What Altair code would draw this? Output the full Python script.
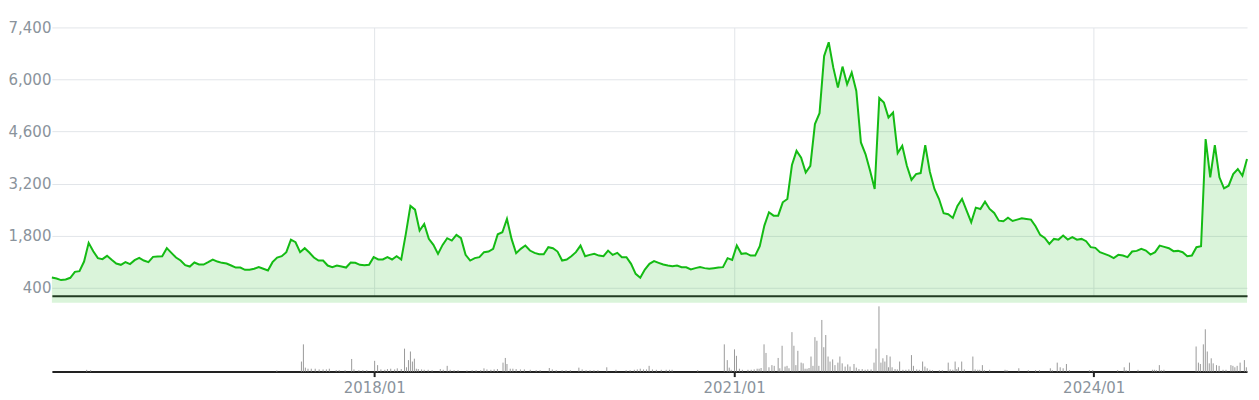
import altair as alt
import pandas as pd

# ---- price series (biweekly closes) ----
price_start = "2015-04-25"
price = [
    676, 650, 607, 623, 668, 829, 847, 1105, 1607, 1384,
    1197, 1170, 1258, 1151, 1052, 1017, 1089, 1036, 1143, 1205,
    1133, 1089, 1231, 1240, 1249, 1465, 1339, 1213, 1133, 1009,
    971, 1079, 1025, 1025, 1089, 1160, 1105, 1070, 1052, 998,
    944, 944, 883, 883, 910, 955, 910, 864, 1089, 1213,
    1249, 1357, 1695, 1625, 1357, 1465, 1347, 1213, 1133, 1133,
    998, 955, 998, 971, 944, 1079, 1070, 1017, 1009, 1017,
    1223, 1160, 1160, 1223, 1160, 1249, 1160, 1848, 2600, 2500,
    1937, 2116, 1714, 1553, 1312, 1553, 1733, 1669, 1821, 1733,
    1285, 1133, 1197, 1223, 1357, 1374, 1446, 1840, 1894, 2250,
    1714, 1330, 1446, 1535, 1401, 1339, 1304, 1300, 1492, 1465,
    1374, 1133, 1160, 1249, 1357, 1535, 1249, 1285, 1312, 1266,
    1249, 1400, 1285, 1339, 1223, 1223, 1044, 775, 668, 891,
    1044, 1116, 1070, 1025, 998, 982, 998, 955, 950, 891,
    928, 955, 928, 910, 928, 944, 955, 1197, 1151, 1535,
    1312, 1330, 1266, 1266, 1518, 2071, 2430, 2339, 2339, 2698,
    2787, 3700, 4082, 3900, 3500, 3680, 4800, 5094, 6630, 7000,
    6319, 5782, 6346, 5871, 6185, 5692, 4308, 3994, 3546, 3055,
    5500, 5380, 4978, 5112, 4021, 4216, 3680, 3300, 3457, 3484,
    4235, 3519, 3055, 2787, 2404, 2376, 2277, 2599, 2787, 2473,
    2162, 2554, 2519, 2714, 2519, 2411, 2205, 2189, 2285, 2197,
    2232, 2269, 2251, 2232, 2055, 1821, 1741, 1580, 1714, 1695,
    1803, 1695, 1760, 1695, 1714, 1652, 1492, 1473, 1357, 1312,
    1266, 1197, 1285, 1266, 1223, 1374, 1392, 1446, 1400, 1293,
    1357, 1535, 1500, 1465, 1384, 1392, 1357, 1249, 1266, 1492,
    1518, 4400, 3369, 4235, 3369, 3074, 3144, 3457, 3592, 3412,
    3860,
]

# ---- volume bars (date, relative volume) ----
vol_dates = [
    "2015-08-09", "2015-08-21", "2017-03-10", "2017-05-24", "2017-05-30",
    "2017-06-05", "2017-06-13", "2017-06-23", "2017-07-05", "2017-07-17",
    "2017-07-29", "2017-08-08", "2017-08-17", "2017-09-07", "2017-09-16",
    "2017-10-04", "2017-10-24", "2017-10-31", "2017-11-15", "2017-11-27",
    "2017-12-09", "2018-01-02", "2018-01-11", "2018-01-21", "2018-02-02",
    "2018-02-10", "2018-02-20", "2018-03-04", "2018-03-12", "2018-03-24",
    "2018-04-03", "2018-04-09", "2018-04-15", "2018-04-21", "2018-04-27",
    "2018-05-03", "2018-05-09", "2018-05-15", "2018-05-25", "2018-06-02",
    "2018-06-14", "2018-06-26", "2018-07-21", "2018-07-30", "2018-08-11",
    "2018-08-20", "2018-09-01", "2018-09-13", "2018-10-10", "2018-10-26",
    "2018-11-07", "2018-11-21", "2018-12-01", "2018-12-10", "2018-12-22",
    "2019-01-01", "2019-01-11", "2019-01-28", "2019-02-04", "2019-02-09",
    "2019-02-19", "2019-02-27", "2019-03-09", "2019-03-22", "2019-04-03",
    "2019-04-21", "2019-05-09", "2019-05-21", "2019-06-18", "2019-06-27",
    "2019-07-09", "2019-07-27", "2019-08-08", "2019-08-21", "2019-09-16",
    "2019-09-26", "2019-10-08", "2019-10-20", "2019-11-01", "2019-11-13",
    "2019-12-10", "2020-01-07", "2020-02-07", "2020-02-19", "2020-03-03",
    "2020-03-12", "2020-03-21", "2020-03-31", "2020-04-09", "2020-04-17",
    "2020-04-27", "2020-05-09", "2020-05-24", "2020-06-08", "2020-06-18",
    "2020-06-26", "2020-09-12", "2020-12-02", "2020-12-11", "2020-12-17",
    "2020-12-23", "2021-01-02", "2021-01-08", "2021-01-17", "2021-01-26",
    "2021-02-12", "2021-02-22", "2021-03-03", "2021-03-12", "2021-03-18",
    "2021-03-24", "2021-04-02", "2021-04-08", "2021-04-17", "2021-04-26",
    "2021-05-03", "2021-05-15", "2021-05-20", "2021-05-27", "2021-06-05",
    "2021-06-11", "2021-06-17", "2021-06-26", "2021-07-02", "2021-07-08",
    "2021-07-14", "2021-07-24", "2021-07-30", "2021-08-05", "2021-08-11",
    "2021-08-17", "2021-08-23", "2021-08-29", "2021-09-04", "2021-09-10",
    "2021-09-16", "2021-09-25", "2021-10-01", "2021-10-07", "2021-10-14",
    "2021-10-20", "2021-10-28", "2021-11-04", "2021-11-13", "2021-11-19",
    "2021-11-26", "2021-12-05", "2021-12-13", "2021-12-20", "2022-01-01",
    "2022-01-08", "2022-01-16", "2022-01-26", "2022-02-04", "2022-02-12",
    "2022-02-22", "2022-03-03", "2022-03-09", "2022-03-18", "2022-03-24",
    "2022-03-30", "2022-04-05", "2022-04-11", "2022-04-16", "2022-04-21",
    "2022-04-27", "2022-05-06", "2022-05-13", "2022-05-20", "2022-05-30",
    "2022-06-08", "2022-06-17", "2022-06-25", "2022-07-01", "2022-07-11",
    "2022-07-19", "2022-07-29", "2022-08-05", "2022-08-12", "2022-08-20",
    "2022-08-28", "2022-09-18", "2022-09-27", "2022-10-15", "2022-10-21",
    "2022-10-29", "2022-11-05", "2022-11-10", "2022-11-15", "2022-11-25",
    "2022-12-03", "2022-12-29", "2023-01-05", "2023-01-13", "2023-01-19",
    "2023-01-27", "2023-02-02", "2023-02-18", "2023-04-06", "2023-04-12",
    "2023-05-18", "2023-06-16", "2023-07-08", "2023-07-20", "2023-08-22",
    "2023-08-28", "2023-09-12", "2023-09-21", "2023-09-30", "2023-10-10",
    "2023-10-19", "2023-12-19", "2023-12-29", "2024-03-14", "2024-04-03",
    "2024-04-09", "2024-04-19", "2024-05-15", "2024-06-28", "2024-07-04",
    "2024-07-10", "2024-07-19", "2024-07-25", "2024-08-02", "2024-11-08",
    "2024-11-15", "2024-11-21", "2024-11-30", "2024-12-06", "2024-12-12",
    "2024-12-18", "2024-12-24", "2024-12-30", "2025-01-09", "2025-01-17",
    "2025-01-29", "2025-02-07", "2025-02-22", "2025-02-28", "2025-03-06",
    "2025-03-13", "2025-03-22", "2025-04-04", "2025-04-10",
]
vol_values = [
    2.4, 2, 1.5, 14, 38,
    5.5, 4, 4, 4, 3,
    3, 3, 4, 2, 2,
    2, 17.6, 3, 2, 2,
    2, 15, 9, 3, 2.5,
    3.5, 4, 3, 4.5, 3.5,
    32, 6, 16, 28, 14,
    18, 4, 3.5, 3, 2.5,
    2.5, 2, 3.5, 2.5, 8,
    2.5, 2, 2, 1.5, 2,
    2, 2, 4.5, 3, 2.5,
    3, 3.5, 12.5, 19, 10.6,
    4, 4, 3.5, 3, 3,
    2.5, 2, 2, 5, 3,
    2, 2, 2, 2, 5.5,
    3, 2, 2, 2, 2,
    6, 2.5, 2, 2, 2.5,
    3, 4, 3, 3, 8,
    3, 2.5, 2.5, 2.5, 2.5,
    2.5, 2, 38, 16, 5.5,
    2.5, 31, 22, 4, 2.5,
    2.5, 2.5, 3, 4, 4,
    5, 38, 26, 6, 9,
    8, 19, 4.6, 36, 7,
    8, 4.6, 55, 36, 9,
    29, 12.5, 11.5, 4, 4,
    5, 21, 8, 48, 43,
    8, 72, 34, 51, 21,
    14, 17, 9, 12.5, 21,
    11.5, 7, 10, 7, 10.6,
    5.5, 3.5, 3.5, 2.5, 3,
    3, 12.5, 32, 91, 12.5,
    18.5, 14, 23, 6, 21,
    6, 3.5, 3, 14, 2.5,
    2.5, 3, 23, 8, 3,
    2.5, 14, 7, 4.6, 2.5,
    2, 2, 2, 12.5, 3,
    2.5, 14, 3.5, 6, 14,
    3, 21, 3, 2.5, 2.5,
    9, 2, 2.5, 2.5, 2,
    4.6, 2, 2, 2, 4.6,
    2, 12.5, 6, 4.6, 10.6,
    2, 2, 2, 2, 6,
    2, 12.5, 2.5, 2.5, 2.5,
    2, 9, 2, 2.5, 35,
    12.5, 10.6, 38, 59, 28,
    11.5, 18.5, 11.5, 9, 8,
    2.5, 2.5, 9, 8, 6,
    8, 12.5, 16, 6,
]

tick_dates = [(2018, 1, 1), (2021, 1, 1), (2024, 1, 1)]
y_ticks = [400, 1800, 3200, 4600, 6000, 7400]

assert len(vol_dates) == len(vol_values)

dates = pd.date_range(price_start, periods=len(price), freq="14D")
df = pd.DataFrame({"date": dates, "price": price})
vdf = pd.DataFrame({"date": pd.to_datetime(vol_dates), "volume": vol_values})

W = 1198
H1 = 269
H2 = 69
LABEL_COLOR = "#8a939c"
GRID = "#e2e5e9"
FONT = "DejaVu Sans"

x_domain = [alt.DateTime(year=2015, month=4, date=25),
            alt.DateTime(year=2025, month=4, date=12)]
tick_vals = [alt.DateTime(year=y, month=m, date=d) for (y, m, d) in tick_dates]
xscale = alt.Scale(domain=x_domain)

base = alt.Chart(df)
area = base.mark_area(color="#22bb22", opacity=0.17).encode(
    x=alt.X("date:T", scale=xscale,
            axis=alt.Axis(values=tick_vals, labels=False, ticks=False,
                          domain=True, domainColor="#222222", domainWidth=2,
                          grid=True, gridColor=GRID, gridWidth=1, title=None)),
    y=alt.Y("price:Q",
            scale=alt.Scale(domain=[185, 7400], nice=False, zero=False),
            axis=alt.Axis(values=y_ticks, format=",.0f", domain=False, ticks=False,
                          labelPadding=1, grid=True, gridColor=GRID, gridWidth=1,
                          title=None)),
    y2=alt.value(H1),
)
line = base.mark_line(color="#14bb14", strokeWidth=2).encode(
    x=alt.X("date:T", scale=xscale),
    y=alt.Y("price:Q"),
)
price_chart = alt.layer(area, line).properties(width=W, height=H1)

vol_chart = alt.Chart(vdf).mark_rule(color="#9a9a9a", strokeWidth=1).encode(
    x=alt.X("date:T", scale=xscale,
            axis=alt.Axis(values=tick_vals, format="%Y/%m", domain=True,
                          domainColor="#222222", domainWidth=2, ticks=True,
                          tickColor="#222222", tickWidth=2, tickSize=5,
                          labelPadding=4, grid=False, title=None)),
    y=alt.Y("volume:Q", scale=alt.Scale(domain=[0, 96]), axis=None),
    y2=alt.datum(0),
).properties(width=W, height=H2)

chart = alt.vconcat(price_chart, vol_chart, spacing=0).properties(
    padding={"left": 0, "top": 12, "right": 0, "bottom": 0}
).configure_view(stroke=None).configure_axis(
    labelFont=FONT, labelFontSize=15, labelColor=LABEL_COLOR
)

chart.save("out.html", embed_options={"renderer": "svg", "actions": False})
